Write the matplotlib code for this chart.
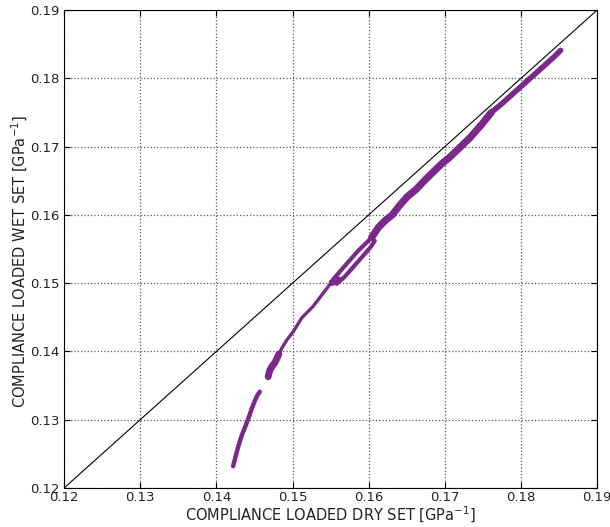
import matplotlib
matplotlib.use("Agg")
import matplotlib.pyplot as plt

PURPLE = "#7a288a"

# lower branch, first part of the loading curve
low_x = [0.1422, 0.1425, 0.1429, 0.1433, 0.1438, 0.1443, 0.1447, 0.1451, 0.1454, 0.1457]
low_y = [0.1232, 0.1245, 0.1262, 0.1276, 0.1290, 0.1305, 0.1318, 0.1329, 0.1336, 0.1341]

# clump just after the gap
clump_x = [0.1468, 0.1470, 0.1473, 0.1477, 0.1480, 0.1482]
clump_y = [0.1363, 0.1372, 0.1378, 0.1384, 0.1391, 0.1396]

# thin stretch up to the split
mid_x = [0.1482, 0.1486, 0.1492, 0.1501, 0.1512, 0.1527, 0.1540, 0.1549, 0.1555]
mid_y = [0.1396, 0.1405, 0.1416, 0.1429, 0.1449, 0.1466, 0.1485, 0.1498, 0.1503]

# blob where the curve splits
blob_x = [0.1552, 0.1556, 0.1560]
blob_y = [0.1501, 0.1503, 0.1505]

# the two parallel branches
up_x = [0.1553, 0.1563, 0.1574, 0.1585, 0.1595, 0.1604]
up_y = [0.1505, 0.1518, 0.1532, 0.1546, 0.1557, 0.1567]
dn_x = [0.1558, 0.1569, 0.1580, 0.1591, 0.1602, 0.1608]
dn_y = [0.1499, 0.1510, 0.1524, 0.1538, 0.1552, 0.1562]

# thick part of the upper band
band_x = [0.1604, 0.1613, 0.1622, 0.1631, 0.1640, 0.1651, 0.1662, 0.1673, 0.1684,
          0.1696, 0.1706, 0.1721, 0.1733, 0.1748, 0.1761]
band_y = [0.1567, 0.1582, 0.1592, 0.1600, 0.1613, 0.1627, 0.1637, 0.1650, 0.1662,
          0.1675, 0.1684, 0.1700, 0.1713, 0.1732, 0.1750]

# thinner top end of the band
top_x = [0.1761, 0.1775, 0.1789, 0.1801, 0.1812, 0.1823, 0.1834, 0.1844, 0.1852]
top_y = [0.1750, 0.1763, 0.1777, 0.1789, 0.1800, 0.1811, 0.1822, 0.1832, 0.1841]

ticks = [0.12, 0.13, 0.14, 0.15, 0.16, 0.17, 0.18, 0.19]
tick_labels = ["0.12", "0.13", "0.14", "0.15", "0.16", "0.17", "0.18", "0.19"]


def main():
    fig = plt.figure(figsize=(6.1, 5.27), dpi=100)
    ax = fig.add_axes([0.105, 0.074, 0.874, 0.907])

    ax.plot([0.12, 0.19], [0.12, 0.19], color="k", lw=0.8, zorder=2)

    kw = dict(color=PURPLE, solid_capstyle="round", solid_joinstyle="round", zorder=3)
    ax.plot(low_x, low_y, lw=3.2, **kw)
    ax.plot(clump_x, clump_y, lw=5.0, **kw)
    ax.plot(mid_x, mid_y, lw=2.4, **kw)
    ax.plot(blob_x, blob_y, lw=5.0, **kw)
    ax.plot(up_x, up_y, lw=3.0, **kw)
    ax.plot(dn_x, dn_y, lw=3.0, **kw)
    ax.plot(band_x, band_y, lw=5.2, **kw)
    ax.plot(top_x, top_y, lw=4.0, **kw)

    ax.set_xlim(0.12, 0.19)
    ax.set_ylim(0.12, 0.19)
    ax.set_xticks(ticks)
    ax.set_xticklabels(tick_labels)
    ax.set_yticks(ticks)
    ax.set_yticklabels(tick_labels)
    ax.tick_params(direction="in", top=True, right=True, length=4,
                   labelsize=9.5, labelcolor="#222222")
    ax.tick_params(axis="x", pad=2.5)
    ax.tick_params(axis="y", pad=3)
    ax.grid(True, color="0.35", linestyle=":", lw=0.9)

    ax.set_xlabel(r"COMPLIANCE LOADED DRY SET [GPa$^{-1}$]", fontsize=10.5, color="#222222")
    ax.set_ylabel(r"COMPLIANCE LOADED WET SET [GPa$^{-1}$]", fontsize=10.5, color="#222222")
    ax.xaxis.label.set_va("center")
    ax.yaxis.label.set_va("center")
    ax.xaxis.set_label_coords(0.5, -0.057)
    ax.yaxis.set_label_coords(-0.083, 0.474)

    fig.savefig("out.png", dpi=100)


if __name__ == "__main__":
    main()
